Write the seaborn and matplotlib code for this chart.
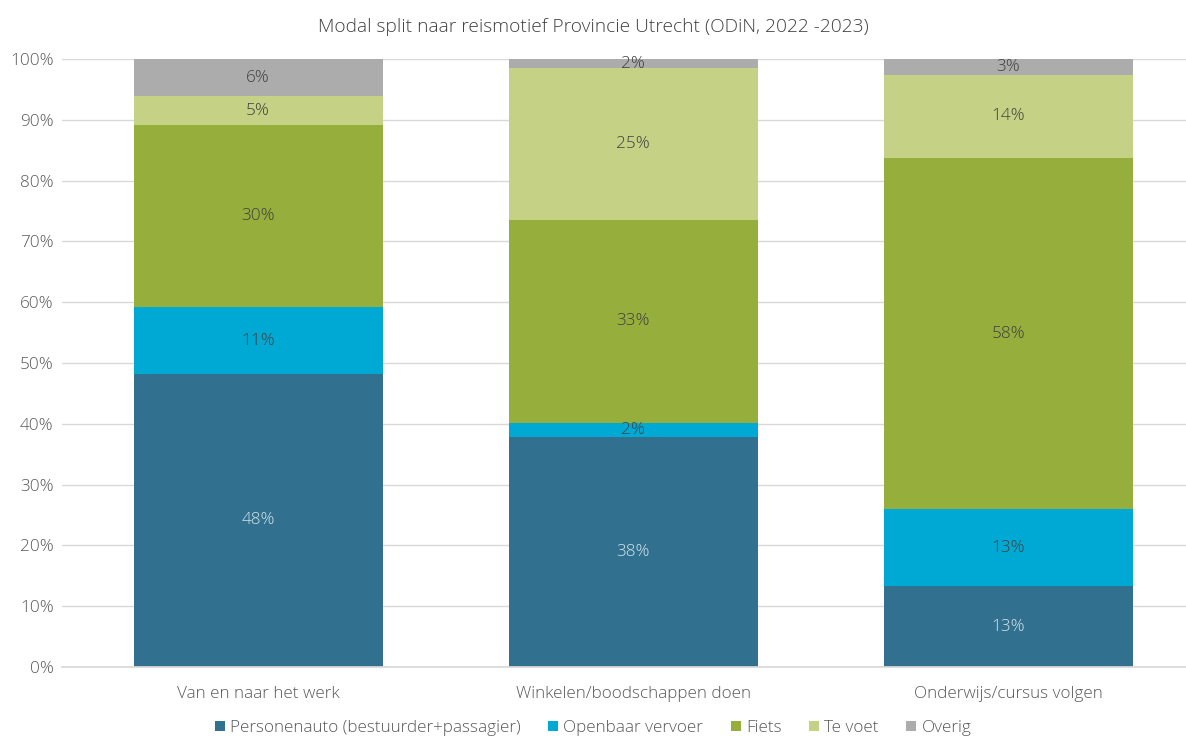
import numpy as np
import pandas as pd
import matplotlib
matplotlib.use('Agg')
import matplotlib.pyplot as plt
import seaborn as sns
from matplotlib.patches import Patch

sns.set_theme(style='white')
plt.rcParams['font.family'] = ['Open Sans', 'DejaVu Sans']
plt.rcParams['font.weight'] = 'light'

categories = ['Van en naar het werk', 'Winkelen/boodschappen doen', 'Onderwijs/cursus volgen']
modes = ['Personenauto (bestuurder+passagier)', 'Openbaar vervoer', 'Fiets', 'Te voet', 'Overig']
auto = [48.2, 37.8, 13.3]
ov = [11.0, 2.4, 12.7]
fiets = [29.9, 33.4, 57.7]
te_voet = [4.8, 24.9, 13.7]
overig = [6.1, 1.5, 2.6]

colors = ['#31718f', '#00a9d4', '#96ae3c', '#c5d185', '#acacac']
label_colors = ['#d6e2ea', '#404040', '#404040', '#404040', '#404040']

values = np.array([auto, ov, fiets, te_voet, overig])
cum = values.cumsum(axis=0)

fig = plt.figure(figsize=(11.86, 7.36), dpi=100)
ax = fig.add_axes([62 / 1186, 69 / 736, 1124 / 1186, 608 / 736])

# stacked bars: draw cumulative totals from the top down
for i in range(len(modes) - 1, -1, -1):
    df = pd.DataFrame({'cat': categories, 'val': cum[i]})
    sns.barplot(data=df, x='cat', y='val', color=colors[i], saturation=1,
                width=0.664, ax=ax, zorder=2, linewidth=0)

for i in range(len(modes)):
    for j in range(len(categories)):
        mid = cum[i][j] - values[i][j] / 2
        ax.text(j, mid, f'{values[i][j]:.0f}%', ha='center', va='center',
                fontsize=12.3, color=label_colors[i], fontweight='light', zorder=3)

ax.set_xlim(-0.523, 2.474)
ax.set_ylim(0, 100)
ax.set_yticks(np.arange(0, 101, 10))
ax.set_yticklabels([f'{t}%' for t in range(0, 101, 10)])
ax.yaxis.grid(True, color='#d9d9d9', linewidth=1, zorder=0)
ax.set_axisbelow(True)
for s in ax.spines.values():
    s.set_visible(False)
ax.spines['bottom'].set_visible(True)
ax.spines['bottom'].set_color('#d9d9d9')
ax.set_xlabel('')
ax.set_ylabel('')
ax.tick_params(axis='both', labelsize=12.3, labelcolor='#595959', length=0)
ax.tick_params(axis='x', pad=14)
ax.tick_params(axis='y', pad=6)

fig.text(0.5, 1 - 27 / 736, 'Modal split naar reismotief Provincie Utrecht (ODiN, 2022 -2023)',
         ha='center', va='center', fontsize=13.8, color='#404040', fontweight='light')

handles = [Patch(facecolor=c, edgecolor='none') for c in colors]
fig.legend(handles, modes, loc='center', bbox_to_anchor=(0.5, 1 - 728 / 736), ncol=5,
           frameon=False, fontsize=12.3, handlelength=0.6, handleheight=0.6,
           handletextpad=0.3, columnspacing=1.6, labelcolor='#595959')

fig.savefig('out.png', dpi=100)
